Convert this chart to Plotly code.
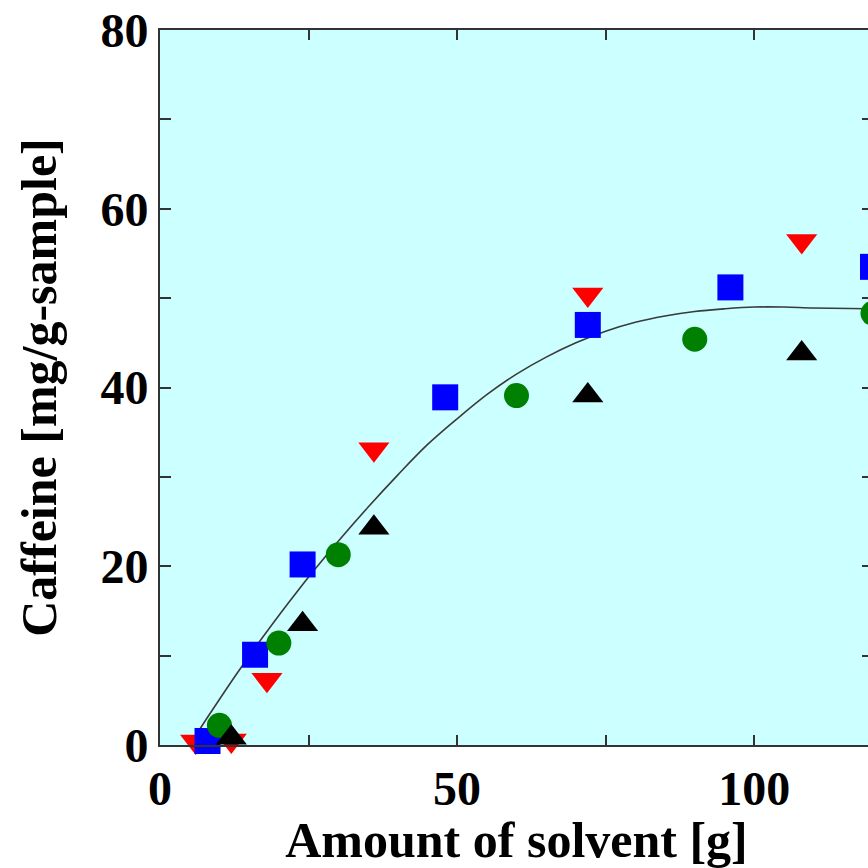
import plotly.graph_objects as go

# Data
red_x = [6, 12, 18, 36, 72, 108]
red_y = [0.4, 0.5, 7.3, 33.1, 50.4, 56.4]

blue_x = [8, 16, 24, 48, 72, 96, 120]
blue_y = [0.45, 10.1, 20.2, 38.9, 47.0, 51.2, 53.5]

green_x = [10, 20, 30, 60, 90, 120]
green_y = [2.2, 11.4, 21.3, 39.1, 45.4, 48.3]

black_x = [12, 24, 36, 72, 108]
black_y = [0.8, 13.5, 24.3, 39.1, 43.8]

curve_x = [5, 8, 11, 14, 17, 20, 23, 26, 30, 35, 40, 45, 50, 55, 60, 65, 70, 75, 80, 85, 90, 95, 100, 105,
           110, 120]
curve_y = [0, 3.1, 6.1, 9.0, 11.8, 14.5, 17.1, 19.6, 22.8, 26.6, 30.2, 33.6, 36.5, 39.2, 41.5, 43.4, 45.0,
           46.3, 47.3, 48.0, 48.5, 48.8, 49.0, 49.0, 48.9, 48.8]

x_tickvals = [0, 50, 100]
y_tickvals = [0, 20, 40, 60, 80]

FONT = "Liberation Serif"
AX = "#333333"

fig = go.Figure()

fig.add_trace(go.Scatter(x=curve_x, y=curve_y, mode="lines", line=dict(color="#3a3a3a", width=1.6, shape="spline"),
                         showlegend=False, hoverinfo="skip"))

common = dict(mode="markers", showlegend=False, cliponaxis=False)
fig.add_trace(go.Scatter(x=red_x, y=red_y, marker=dict(symbol="triangle-down", size=27, color="#FF0000"), **common))
fig.add_trace(go.Scatter(x=blue_x, y=blue_y, marker=dict(symbol="square", size=26, color="#0000FF"), **common))
fig.add_trace(go.Scatter(x=green_x, y=green_y, marker=dict(symbol="circle", size=25, color="#008000"), **common))
fig.add_trace(go.Scatter(x=black_x, y=black_y, marker=dict(symbol="triangle-up", size=27, color="#000000"), **common))

tickfont = dict(family=FONT, size=48, color="black")
titlefont = dict(family=FONT, size=50, color="black")

# The figure is 5px wider than the window: the page clips the right edge like the reference does.
fig.update_layout(
    width=873, height=868,
    margin=dict(l=160, r=0, t=30, b=123),
    paper_bgcolor="white",
    plot_bgcolor="#CCFFFF",
    xaxis=dict(
        range=[0, 120], tickvals=x_tickvals, ticktext=[f"<b>{v}</b>" for v in x_tickvals],
        ticks="inside", ticklen=10, tickwidth=2, tickcolor=AX,
        minor=dict(dtick=25, tick0=0, ticks="inside", ticklen=10, tickwidth=2, tickcolor=AX),
        showline=True, linecolor=AX, linewidth=2, mirror="ticks",
        showgrid=False, zeroline=False, tickfont=tickfont,
        title=dict(text="<b>Amount of solvent [g]</b>", font=titlefont, standoff=10),
        automargin=False,
    ),
    yaxis=dict(
        range=[0, 80], tickvals=y_tickvals, ticktext=[f"<b>{v}</b>" for v in y_tickvals],
        ticks="inside", ticklen=11, tickwidth=2, tickcolor=AX,
        minor=dict(dtick=10, tick0=0, ticks="inside", ticklen=11, tickwidth=2, tickcolor=AX),
        showline=True, linecolor=AX, linewidth=2, mirror="ticks",
        showgrid=False, zeroline=False, tickfont=tickfont,
        title=dict(text="<b>Caffeine [mg/g-sample]</b>", font=titlefont, standoff=28),
        automargin=False,
    ),
)

fig.write_html(
    "out.html",
    config={"displayModeBar": False},
    post_script="document.body.style.margin='0';document.body.style.padding='0';"
                "document.body.style.overflow='hidden';document.documentElement.style.overflow='hidden';",
)
